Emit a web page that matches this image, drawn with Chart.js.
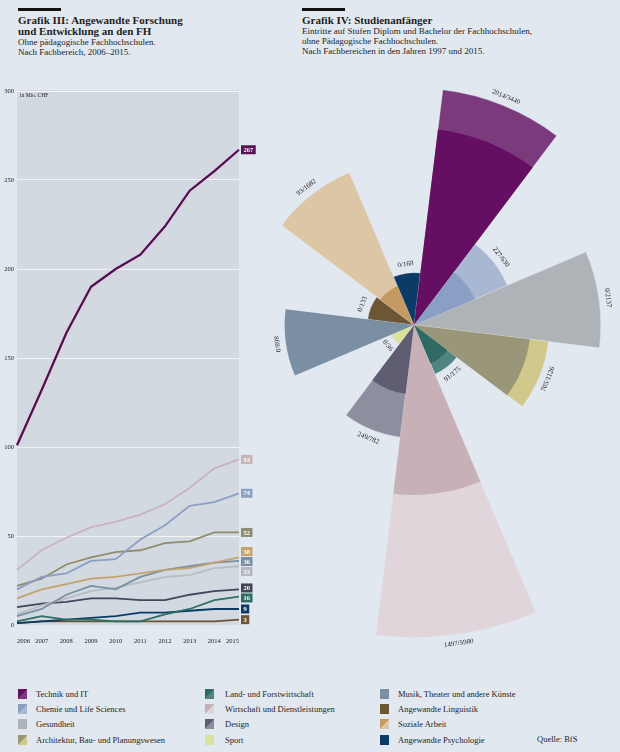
<!DOCTYPE html>
<html lang="de">
<head>
<meta charset="utf-8">
<title>Fachhochschulen</title>
<script src="https://cdn.jsdelivr.net/npm/chart.js@4.4.1/dist/chart.umd.min.js"></script>
<style>
  html, body { margin: 0; padding: 0; }
  body {
    width: 620px; height: 752px; position: relative; overflow: hidden;
    background: #e1e8f0; color: #1e1e1e;
    font-family: "Liberation Serif", "DejaVu Serif", serif;
  }
  .bar { position: absolute; top: 8px; height: 3px; width: 43px; background: #111; }
  .title { position: absolute; font-weight: bold; font-size: 11px; line-height: 10.5px; }
  .sub { position: absolute; font-size: 9px; line-height: 10px; }
  #lineWrap { position: absolute; left: 0; top: 80px; width: 270px; height: 570px; }
  #polarWrap { position: absolute; left: 200px; top: 60px; width: 420px; height: 620px; }
  .legend { position: absolute; font-size: 8.5px; }
  .legend .item { position: absolute; white-space: nowrap; height: 10px; line-height: 10px; }
  .legend .sw { position: absolute; left: 0; top: 0; width: 9px; height: 10px; }
  .legend .tx { position: absolute; top: 0; }
  #quelle { position: absolute; left: 537px; top: 734px; font-size: 8.5px; line-height: 10px; }
</style>
</head>
<body>

<div class="bar" style="left:18px"></div>
<div class="title" style="left:18px; top:15px">Grafik III: Angewandte Forschung<br>und Entwicklung an den FH</div>
<div class="sub" style="left:18px; top:36.7px">Ohne pädagogische Fachhochschulen.<br>Nach Fachbereich, 2006–2015.</div>

<div class="bar" style="left:302px"></div>
<div class="title" style="left:302px; top:15px">Grafik IV: Studienanfänger</div>
<div class="sub" style="left:302px; top:27.4px; line-height:9.7px">Eintritte auf Stufen Diplom und Bachelor der Fachhochschulen,<br>ohne Pädagogische Fachhochschulen.<br>Nach Fachbereichen in den Jahren 1997 und 2015.</div>

<div id="lineWrap"><canvas id="lineChart"></canvas></div>
<div id="polarWrap"><canvas id="polarChart"></canvas></div>

<div class="legend" id="legend"></div>
<div id="quelle">Quelle: BfS</div>

<script>
// Fachbereiche (gleiche Reihenfolge wie Legende und Rosette)
const fachbereiche = [
  'Technik und IT', 'Chemie und Life Sciences', 'Gesundheit',
  'Architektur, Bau- und Planungswesen', 'Land- und Forstwirtschaft',
  'Wirtschaft und Dienstleistungen', 'Design', 'Sport',
  'Musik, Theater und andere Künste', 'Angewandte Linguistik',
  'Soziale Arbeit', 'Angewandte Psychologie'
];
const farbeDunkel = ['#640f62', '#8b9fc4', '#adb3b7', '#9a9679', '#2f6b64', '#c7b1b7',
                     '#5e5d72', '#d8e299', '#7a8fa1', '#6c5634', '#c49a62', '#0b3c67'];
const farbeHell   = ['#7b3a7b', '#a8b8d3', '#adb3b7', '#d0c98b', '#4f8480', '#e0d5da',
                     '#8e8f9e', '#d8e299', '#7a8fa1', '#6c5634', '#dcc6a5', '#0b3c67'];

// Grafik III: F&E in Mio. CHF
const jahre = ['2006', '2007', '2008', '2009', '2010', '2011', '2012', '2013', '2014', '2015'];
const technikIT     = [101, 132, 164, 190, 200, 208, 224, 244, 255, 267];
const wirtschaft    = [31, 42, 49, 55, 58, 62, 68, 77, 88, 93];
const chemie        = [20, 27, 29, 36, 37, 48, 56, 67, 69, 74];
const architektur   = [22, 26, 34, 38, 41, 42, 46, 47, 52, 52];
const sozialeArbeit = [15, 20, 23, 26, 27, 29, 31, 32, 35, 38];
const musik         = [5, 9, 17, 22, 20, 27, 31, 33, 35, 36];
const gesundheit    = [6, 11, 15, 19, 21, 24, 27, 28, 32, 33];
const design        = [10, 12, 13, 15, 15, 14, 14, 17, 19, 20];
const landForst     = [2, 5, 3, 3, 2, 2, 6, 9, 14, 16];
const psychologie   = [1, 2, 3, 4, 5, 7, 7, 8, 9, 9];
const linguistik    = [1, 2, 2, 2, 2, 2, 2, 2, 2, 3];
const yTicks = [0, 50, 100, 150, 200, 250, 300];

// Grafik IV: Eintritte 1997 / 2015
const eintritte1997 = [2014, 227, 0, 705, 91, 1497, 249, 0, 868, 0, 93, 0];
const eintritte2015 = [3440, 630, 2137, 1126, 175, 5980, 782, 36, 0, 133, 1682, 168];

const FONT = '"Liberation Serif", "DejaVu Serif", serif';

// ---------- Legende ----------
const legend = document.getElementById('legend');
const spalten = [18, 205, 380];
const textLeft = [18, 20, 18];
fachbereiche.forEach(function (name, i) {
  const col = Math.floor(i / 4), row = i % 4;
  const item = document.createElement('div');
  item.className = 'item';
  item.style.left = spalten[col] + 'px';
  item.style.top = (689 + row * 15.2) + 'px';
  const sw = document.createElement('div');
  sw.className = 'sw';
  sw.style.background = farbeDunkel[i] === farbeHell[i]
    ? farbeDunkel[i]
    : 'linear-gradient(to bottom right, ' + farbeDunkel[i] + ' 50%, ' + farbeHell[i] + ' 50%)';
  const tx = document.createElement('div');
  tx.className = 'tx';
  tx.style.left = textLeft[col] + 'px';
  tx.textContent = name;
  item.appendChild(sw);
  item.appendChild(tx);
  legend.appendChild(item);
});

// ---------- Grafik III ----------
const linien = [
  { label: fachbereiche[0], data: technikIT, color: '#4e0f4b', box: '#5c1257', width: 2.2, halo: true },
  { label: fachbereiche[5], data: wirtschaft, color: '#c9b4b9', box: '#c8b2b8' },
  { label: fachbereiche[1], data: chemie, color: '#8ba0c4', box: '#8ea2c4' },
  { label: fachbereiche[3], data: architektur, color: '#8f8d6e', box: '#8e8d70' },
  { label: fachbereiche[10], data: sozialeArbeit, color: '#c4a26e', box: '#c9a36a' },
  { label: fachbereiche[8], data: musik, color: '#7890a3', box: '#7a90a3' },
  { label: fachbereiche[2], data: gesundheit, color: '#b7bdc2', box: '#b3b9bf' },
  { label: fachbereiche[6], data: design, color: '#45455a', box: '#45455a' },
  { label: fachbereiche[4], data: landForst, color: '#2e6e64', box: '#2e6e64' },
  { label: fachbereiche[11], data: psychologie, color: '#0b3a66', box: '#0b3a66' },
  { label: fachbereiche[9], data: linguistik, color: '#6b5535', box: '#6b5535' }
];

const plotBg = {
  id: 'plotBg',
  beforeDraw(chart) {
    const a = chart.chartArea, ctx = chart.ctx;
    ctx.save();
    ctx.fillStyle = '#d3d9e0';
    ctx.fillRect(a.left, a.top - 1, a.right - a.left, a.bottom - a.top + 1);
    ctx.fillStyle = '#222';
    ctx.font = '5.5px ' + FONT;
    ctx.textBaseline = 'top';
    ctx.fillText('in Mio. CHF', a.left + 3, a.top + 2);
    ctx.restore();
  }
};

const halo = {
  id: 'halo',
  beforeDatasetDraw(chart, args) {
    const ds = chart.data.datasets[args.index];
    chart.ctx.save();
    if (ds.halo) {
      chart.ctx.shadowColor = 'rgba(235,190,235,0.95)';
      chart.ctx.shadowBlur = 2.5;
    }
  },
  afterDatasetDraw(chart) {
    chart.ctx.restore();
  }
};

const endLabels = {
  id: 'endLabels',
  afterDatasetsDraw(chart) {
    const ctx = chart.ctx, a = chart.chartArea;
    const items = [];
    chart.data.datasets.forEach(function (ds, i) {
      const meta = chart.getDatasetMeta(i);
      const last = meta.data[meta.data.length - 1];
      items.push({ y: last.y, text: String(ds.data[ds.data.length - 1]), color: ds.boxColor });
    });
    items.sort(function (p, q) { return p.y - q.y; });
    const gap = 10;
    for (let it = 0; it < 200; it++) {
      let moved = false;
      for (let i = 1; i < items.length; i++) {
        const d = items[i].y - items[i - 1].y;
        if (d < gap - 0.01) {
          const s = (gap - d) / 2;
          items[i - 1].y -= s; items[i].y += s; moved = true;
        }
      }
      if (!moved) break;
    }
    ctx.save();
    ctx.font = 'bold 6.5px ' + FONT;
    ctx.textBaseline = 'middle';
    items.forEach(function (p) {
      const w = ctx.measureText(p.text).width + 5;
      ctx.fillStyle = p.color;
      ctx.fillRect(a.right + 2, p.y - 4.5, w, 9);
      ctx.fillStyle = '#fff';
      ctx.fillText(p.text, a.right + 4.5, p.y + 0.5);
    });
    ctx.restore();
  }
};

new Chart(document.getElementById('lineChart'), {
  type: 'line',
  data: {
    labels: jahre,
    datasets: linien.map(function (l) {
      return {
        label: l.label,
        data: l.data,
        borderColor: l.color,
        boxColor: l.box,
        borderWidth: l.width || 1.8,
        halo: !!l.halo,
        pointRadius: 0,
        tension: 0,
        fill: false
      };
    })
  },
  options: {
    responsive: true,
    maintainAspectRatio: false,
    animation: false,
    events: [],
    layout: { padding: { top: 11, right: 31, left: 0, bottom: 0 } },
    plugins: { legend: { display: false }, tooltip: { enabled: false } },
    scales: {
      x: {
        offset: false,
        grid: { display: false },
        border: { display: false },
        ticks: { align: 'inner', maxRotation: 0, autoSkip: false, padding: 4,
                 color: '#222', font: { family: FONT, size: 6.5 } },
        afterFit(scale) { scale.height = 25; }
      },
      y: {
        min: 0, max: 300,
        afterBuildTicks(scale) { scale.ticks = yTicks.map(function (v) { return { value: v }; }); },
        grid: {
          color(c) { return c.tick && c.tick.value === 0 ? 'rgba(0,0,0,0)' : '#f2f4f6'; },
          lineWidth: 1,
          drawTicks: false
        },
        border: { display: false },
        ticks: { padding: 3, color: '#222', font: { family: FONT, size: 6.5 } },
        afterFit(scale) { scale.width = 17; }
      }
    }
  },
  plugins: [plotBg, halo, endLabels]
});

// ---------- Grafik IV ----------
// Flächentreue Rosette: Radius proportional zur Wurzel der Eintritte;
// die Werte 1997 sind in der Vorlage etwas grösser skaliert (eigene Achse r97)
const polarLabels = {
  id: 'polarLabels',
  afterDatasetsDraw(chart) {
    const ctx = chart.ctx;
    const scale = chart.scales.r;
    const m0 = chart.getDatasetMeta(0), m1 = chart.getDatasetMeta(1);
    ctx.save();
    ctx.font = '7px ' + FONT;
    ctx.fillStyle = '#222';
    ctx.textAlign = 'center';
    ctx.textBaseline = 'middle';
    fachbereiche.forEach(function (name, i) {
      const a0 = m0.data[i], a1 = m1.data[i];
      const r = Math.max(a0.outerRadius, a1.outerRadius) + 9;
      const mid = (a0.startAngle + a0.endAngle) / 2;
      const x = scale.xCenter + Math.cos(mid) * r;
      const y = scale.yCenter + Math.sin(mid) * r;
      const rot = Math.sin(mid) < 0 ? mid + Math.PI / 2 : mid - Math.PI / 2;
      ctx.save();
      ctx.translate(x, y);
      ctx.rotate(rot);
      ctx.fillText(eintritte1997[i] + '/' + eintritte2015[i], 0, 0);
      ctx.restore();
    });
    ctx.restore();
  }
};

const radialOpts = function (max) {
  return {
    type: 'radialLinear',
    min: 0, max: max,
    startAngle: 7,
    grid: { display: false },
    angleLines: { display: false },
    pointLabels: { display: false },
    ticks: { display: false }
  };
};

new Chart(document.getElementById('polarChart'), {
  type: 'polarArea',
  data: {
    labels: fachbereiche,
    datasets: [
      { label: '1997', data: eintritte1997.map(Math.sqrt), rAxisID: 'r97',
        backgroundColor: farbeDunkel, borderWidth: 0, clip: false },
      { label: '2015', data: eintritte2015.map(Math.sqrt), rAxisID: 'r',
        backgroundColor: farbeHell, borderColor: 'rgba(225,232,240,0.7)', borderWidth: 0.5, clip: false }
    ]
  },
  options: {
    responsive: true,
    maintainAspectRatio: false,
    animation: false,
    events: [],
    layout: { padding: { top: 63, right: 4, left: 12, bottom: 153 } },
    plugins: { legend: { display: false }, tooltip: { enabled: false } },
    scales: {
      r: radialOpts(50),
      r97: radialOpts(46)
    }
  },
  plugins: [polarLabels]
});
</script>
</body>
</html>
